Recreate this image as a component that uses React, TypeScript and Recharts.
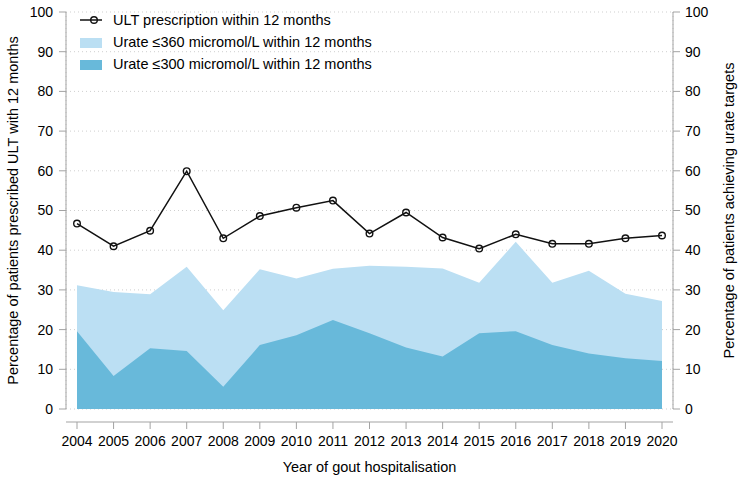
import React from 'react';
import { ComposedChart, Area, Line, XAxis, YAxis, CartesianGrid, Legend } from 'recharts';

const years = ['2004', '2005', '2006', '2007', '2008', '2009', '2010', '2011', '2012', '2013', '2014', '2015', '2016', '2017', '2018', '2019', '2020'];
const ultPrescription = [46.7, 41.0, 44.9, 59.9, 43.0, 48.6, 50.7, 52.5, 44.2, 49.5, 43.2, 40.4, 44.0, 41.6, 41.6, 43.0, 43.7];
const urate360 = [31.2, 29.5, 28.9, 35.8, 24.9, 35.2, 32.9, 35.3, 36.1, 35.8, 35.4, 31.8, 42.1, 31.8, 34.8, 29.0, 27.2];
const urate300 = [19.6, 8.3, 15.3, 14.6, 5.6, 16.1, 18.6, 22.4, 19.1, 15.5, 13.2, 19.1, 19.6, 16.1, 14.0, 12.8, 12.1];
const yTicks = [0, 10, 20, 30, 40, 50, 60, 70, 80, 90, 100];

const seriesNames = {
  ult: 'ULT prescription within 12 months',
  u360: 'Urate \u2264360 micromol/L within 12 months',
  u300: 'Urate \u2264300 micromol/L within 12 months',
};
const leftTitle = 'Percentage of patients prescribed ULT with 12 months';
const rightTitle = 'Percentage of patients achieving urate targets';
const xTitle = 'Year of gout hospitalisation';

const FONT = '"Liberation Sans", Arial, Helvetica, sans-serif';
const LIGHT = '#bbdff3';
const DARK = '#68b9da';
const AXIS = '#a3a3a3';

const data = years.map((y, i) => ({
  year: y,
  ult: ultPrescription[i],
  u360: urate360[i],
  u300: urate300[i],
}));

const LeftTitle = (props: any) => {
  const vb = props.viewBox || { x: 0, y: 12, width: 66, height: 397 };
  const cx = 18;
  const cy = vb.y + vb.height / 2;
  return (
    <text x={cx} y={cy} transform={`rotate(-90 ${cx} ${cy})`} textAnchor="middle" fontSize={14.5} fontFamily={FONT} fill="#000">
      {leftTitle}
    </text>
  );
};

const RightTitle = (props: any) => {
  const vb = props.viewBox || { x: 673, y: 12, width: 67, height: 397 };
  const cx = 734;
  const cy = vb.y + vb.height / 2;
  return (
    <text x={cx} y={cy} transform={`rotate(-90 ${cx} ${cy})`} textAnchor="middle" fontSize={14.5} fontFamily={FONT} fill="#000">
      {rightTitle}
    </text>
  );
};

const XTitle = (props: any) => {
  const vb = props.viewBox || { x: 66, y: 422, width: 607, height: 56 };
  const cx = vb.x + vb.width / 2;
  const cy = vb.y + vb.height - 6;
  return (
    <text x={cx} y={cy} textAnchor="middle" fontSize={14.5} fontFamily={FONT} fill="#000">
      {xTitle}
    </text>
  );
};

const LegendContent = () => (
  <svg width={440} height={80} style={{ display: 'block' }}>
    <line x1={80} y1={20} x2={102} y2={20} stroke="#111" strokeWidth={1.5} />
    <circle cx={94} cy={20} r={3.3} stroke="#111" strokeWidth={1.4} fill="none" />
    <text x={113} y={24.5} fontSize={14.5} fontFamily={FONT} fill="#000">{seriesNames.ult}</text>
    <rect x={80} y={38} width={22} height={10} fill={LIGHT} />
    <text x={113} y={46.5} fontSize={14.5} fontFamily={FONT} fill="#000">{seriesNames.u360}</text>
    <rect x={80} y={60} width={22} height={10} fill={DARK} />
    <text x={113} y={68.5} fontSize={14.5} fontFamily={FONT} fill="#000">{seriesNames.u300}</text>
  </svg>
);

export default function App() {
  return (
    <div style={{ position: 'absolute', left: 0, top: 0, width: 740, height: 478, background: '#fff' }}>
      <ComposedChart width={740} height={478} data={data} margin={{ top: 12, right: 0, bottom: 0, left: 0 }}>
        <CartesianGrid stroke="#cfcfcf" strokeDasharray="1 3" />
        <XAxis
          dataKey="year"
          xAxisId={0}
          height={13}
          padding={{ left: 11, right: 11 }}
          tick={false}
          tickLine={false}
          axisLine={false}
          interval={0}
        />
        <XAxis
          dataKey="year"
          xAxisId="vis"
          height={56}
          padding={{ left: 11, right: 11 }}
          interval={0}
          stroke={AXIS}
          tickSize={7}
          tickMargin={7}
          tick={{ fill: '#000', fontSize: 14, fontFamily: FONT }}
          label={{ value: xTitle, content: XTitle }}
        />
        <YAxis
          yAxisId={0}
          type="number"
          domain={[0, 100]}
          ticks={yTicks}
          interval={0}
          width={66}
          stroke={AXIS}
          tickSize={7}
          tickMargin={6}
          tick={{ fill: '#000', fontSize: 14, fontFamily: FONT }}
          label={{ value: leftTitle, content: LeftTitle }}
        />
        <YAxis
          yAxisId="right"
          orientation="right"
          type="number"
          domain={[0, 100]}
          ticks={yTicks}
          interval={0}
          width={67}
          stroke={AXIS}
          tickSize={7}
          tickMargin={5}
          tick={{ fill: '#000', fontSize: 14, fontFamily: FONT, textAnchor: 'start' }}
          label={{ value: rightTitle, content: RightTitle }}
        />
        <Area
          xAxisId="vis"
          yAxisId="right"
          type="linear"
          dataKey="u360"
          name={seriesNames.u360}
          fill={LIGHT}
          fillOpacity={1}
          stroke="none"
          isAnimationActive={false}
          dot={false}
          activeDot={false}
        />
        <Area
          xAxisId="vis"
          yAxisId="right"
          type="linear"
          dataKey="u300"
          name={seriesNames.u300}
          fill={DARK}
          fillOpacity={1}
          stroke="none"
          isAnimationActive={false}
          dot={false}
          activeDot={false}
        />
        <Line
          xAxisId={0}
          yAxisId={0}
          type="linear"
          dataKey="ult"
          name={seriesNames.ult}
          stroke="#111"
          strokeWidth={1.5}
          dot={{ r: 3.3, stroke: '#111', strokeWidth: 1.4, fill: 'none' }}
          activeDot={false}
          isAnimationActive={false}
        />
        <Legend
          layout="vertical"
          align="center"
          verticalAlign="middle"
          content={LegendContent}
          wrapperStyle={{ position: 'absolute', left: 0, top: 0, width: 440, height: 80 }}
        />
      </ComposedChart>
    </div>
  );
}
